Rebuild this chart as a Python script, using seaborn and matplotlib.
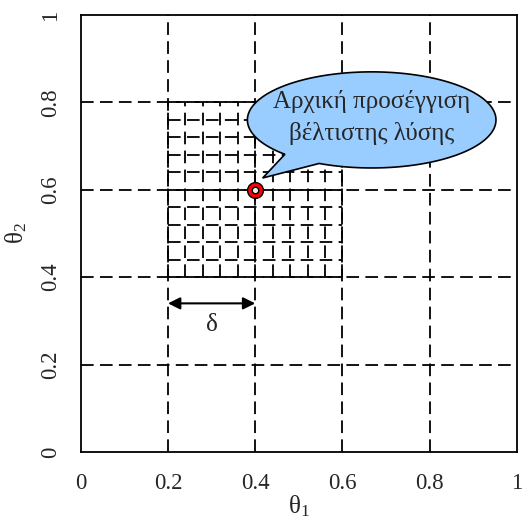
import numpy as np
import matplotlib.pyplot as plt
import seaborn as sns
from matplotlib.path import Path
from matplotlib.patches import PathPatch

sns.set_style('white')
plt.rcParams['font.family'] = ['Liberation Serif', 'DejaVu Serif']
plt.rcParams['mathtext.fontset'] = 'custom'
plt.rcParams['mathtext.rm'] = 'Liberation Serif'

# coarse grid (whole domain) and fine grid (refined area)
coarse_lines = [0.2, 0.4, 0.6, 0.8]
fine_x = [0.20, 0.24, 0.28, 0.32, 0.36, 0.40, 0.44, 0.48, 0.52, 0.56, 0.60]
fine_y = [0.40, 0.44, 0.48, 0.52, 0.56, 0.60, 0.64, 0.68, 0.72, 0.76, 0.80]

# initial estimate of the optimum
start_theta1 = [0.4]
start_theta2 = [0.6]

# delta span
delta_from, delta_to, delta_level = 0.2, 0.4, 0.34

ticks = [0, 0.2, 0.4, 0.6, 0.8, 1]
tick_labels = ['0', '0.2', '0.4', '0.6', '0.8', '1']

fig, ax = plt.subplots(figsize=(5.28, 5.20), dpi=100)
fig.subplots_adjust(left=0.153, right=0.979, top=0.971, bottom=0.131)

dash = dict(color='black', lw=1.3, linestyle=(0, (7, 3.5)))
ax.vlines(coarse_lines, 0, 1, **dash)
ax.hlines(coarse_lines, 0, 1, **dash)
ax.vlines(fine_x, min(fine_y), max(fine_y), **dash)
ax.hlines(fine_y, min(fine_x), max(fine_x), **dash)

# callout bubble
cx, cy, a, b = 0.667, 0.76, 0.285, 0.11
t = np.radians(np.linspace(245, 585.7, 200))
pts = list(zip(cx + a * np.cos(t), cy + b * np.sin(t)))
pts.append((0.417, 0.627))
pts.append(pts[0])
codes = [Path.MOVETO] + [Path.LINETO] * (len(pts) - 2) + [Path.CLOSEPOLY]
ax.add_patch(PathPatch(Path(pts, codes), facecolor='#99CCFF', edgecolor='black', lw=1.2, zorder=4))
ax.text(cx, cy + 0.005, 'Αρχική προσέγγιση\nβέλτιστης λύσης', ha='center', va='center',
        fontsize=18, linespacing=1.5, zorder=5)

# starting point
sns.scatterplot(x=start_theta1, y=start_theta2, s=130, color='red', edgecolor='black',
                linewidth=1.0, ax=ax, zorder=6, legend=False)
sns.scatterplot(x=start_theta1, y=start_theta2, s=22, color='#f0f0f0', edgecolor='black',
                linewidth=1.0, ax=ax, zorder=7, legend=False)

# delta arrow
ax.annotate('', xy=(delta_from, delta_level), xytext=(delta_to, delta_level),
            arrowprops=dict(arrowstyle='<|-|>', color='black', lw=1.5, mutation_scale=18,
                            shrinkA=0, shrinkB=0), zorder=5)
ax.text((delta_from + delta_to) / 2, delta_level - 0.05, 'δ', ha='center', va='center', fontsize=18)

ax.set_xlim(0, 1)
ax.set_ylim(0, 1)
ax.set_xticks(ticks)
ax.set_yticks(ticks)
ax.set_xticklabels(tick_labels, fontsize=16.5)
ax.set_yticklabels(tick_labels, fontsize=16.5, rotation=90, va='center')
ax.tick_params(direction='in', length=8, width=1, color='black')
ax.tick_params(axis='x', pad=15)
ax.tick_params(axis='y', pad=14)
ax.set_xlabel(r'$\mathrm{θ_1}$', fontsize=18, labelpad=0)
ax.set_ylabel(r'$\mathrm{θ_2}$', fontsize=18, labelpad=8)
for s in ax.spines.values():
    s.set_color('black')
    s.set_linewidth(1.3)

plt.savefig('out.png', dpi=100)
plt.close()
